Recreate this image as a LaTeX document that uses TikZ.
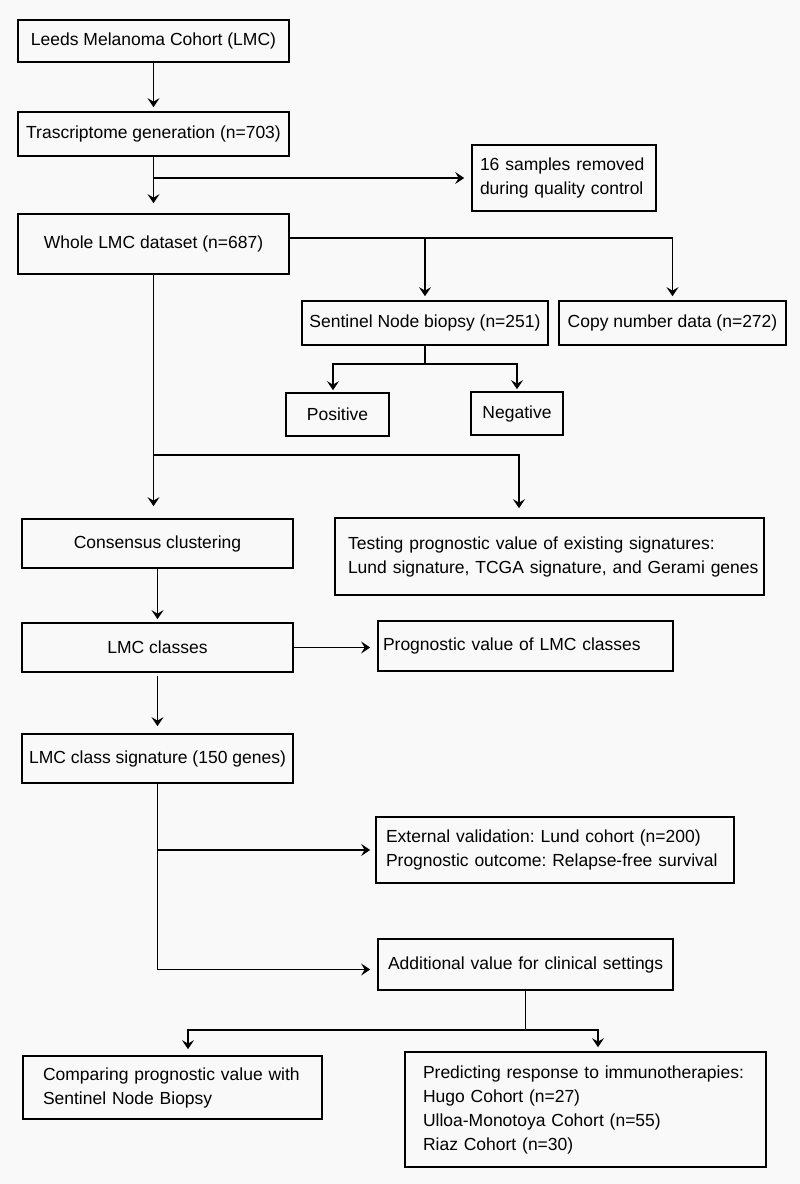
\documentclass[tikz,border=0pt]{standalone}
\usepackage{fontspec}
\setmainfont{Liberation Sans}
\usetikzlibrary{arrows.meta,calc}
\definecolor{bgc}{RGB}{249,249,249}
\frenchspacing
\begin{document}
\begin{tikzpicture}[x=1pt,y=-1pt,
  box/.style={draw=black, line width=1.7pt, rectangle, inner sep=0pt,
    font=\fontsize{17.5}{24}\selectfont\frenchspacing, align=center},
  lbox/.style={box, align=left},
  arr/.style={line width=1.7pt, shorten >=4pt, -{Stealth[length=9pt,width=12pt,inset=3.5pt]}},
  ln/.style={line width=1.7pt}]
\fill[bgc] (0,0) rectangle (800,1184);
\useasboundingbox (0,0) rectangle (800,1184);

% nodes
\node[box, minimum width=271pt, minimum height=42pt] (b1) at (153.5,41) {Leeds Melanoma Cohort (LMC)};
\node[box, minimum width=271pt, minimum height=44pt] (b2) at (153.5,134) {Trascriptome generation (n=703)};
\node[lbox, text width=168pt, inner xsep=8pt, minimum height=66pt] (qc) at (564,178) {\mbox{16 samples removed}\\\mbox{during quality control}};
\node[box, minimum width=271pt, minimum height=60pt] (b3) at (153.5,244) {Whole LMC dataset (n=687)};
\node[box, minimum width=246pt, minimum height=44pt] (sn) at (425,323) {Sentinel Node biopsy (n=251)};
\node[box, minimum width=227pt, minimum height=44pt] (cn) at (672.5,323) {Copy number data (n=272)};
\node[box, minimum width=103pt, minimum height=43pt] (pos) at (337.5,414.5) {Positive};
\node[box, minimum width=92pt, minimum height=43pt] (neg) at (517,413.5) {Negative};
\node[box, minimum width=271pt, minimum height=49pt] (cons) at (157.5,543.5) {Consensus clustering};
\node[lbox, text width=403pt, inner xsep=13pt, minimum height=77pt] (test) at (549.5,556.5) {\mbox{Testing prognostic value of existing signatures:}\\\mbox{Lund signature, TCGA signature, and Gerami genes}};
\node[box, minimum width=271pt, minimum height=49pt] (lmc) at (157.5,647.5) {LMC classes};
\node[lbox, text width=285pt, inner xsep=5pt, minimum height=50pt] (prog) at (525.5,646) {\mbox{Prognostic value of LMC classes}};
\node[box, minimum width=271pt, minimum height=49pt] (sig) at (157.5,758.5) {LMC class signature (150 genes)};
\node[lbox, text width=338pt, inner xsep=10pt, minimum height=66pt] (ext) at (555,850) {\mbox{External validation: Lund cohort (n=200)}\\\mbox{Prognostic outcome: Relapse-free survival}};
\node[lbox, text width=275pt, inner xsep=10pt, minimum height=51pt] (add) at (525.5,964.5) {\mbox{Additional value for clinical settings}};
\node[lbox, text width=259pt, inner xsep=20pt, minimum height=63pt] (comp) at (172.5,1087.5) {\mbox{Comparing prognostic value with}\\\mbox{Sentinel Node Biopsy}};
\node[lbox, text width=325pt, inner xsep=18pt, minimum height=115pt] (pred) at (585.5,1109.5) {\mbox{Predicting response to immunotherapies:}\\\mbox{Hugo Cohort (n=27)}\\\mbox{Ulloa-Monotoya Cohort (n=55)}\\\mbox{Riaz Cohort (n=30)}};

% helper coordinates
\coordinate (y455) at (0,455);
\coordinate (snj) at ($(sn.south)+(0,18)$);
\coordinate (aj) at ($(add.south)+(0,39)$);
\coordinate (b3r) at ([yshift=6pt]b3.east);

% connectors
\draw[arr] (b1.south) -- (b2.north);
\draw[arr, shorten >=10pt] (b2.south) -- (b3.north);
\draw[arr, shorten >=7pt] (b2.south |- qc.west) -- (qc.west);
\draw[arr] (b3r) -| (cn.north);
\draw[arr] (sn.north |- b3r) -- (sn.north);
\draw[ln] (sn.south) -- (snj);
\draw[arr, shorten >=2pt] (snj) -| ([xshift=-4.5pt]pos.north);
\draw[arr, shorten >=2pt] (snj) -| (neg.north);
\draw[arr, shorten >=12pt] (b3.south) -- (b3.south |- cons.north);
\draw[arr, shorten >=9pt] (b3.south |- y455) -| ([xshift=-30.5pt]test.north);
\draw[arr, shorten >=3pt] (cons.south) -- (lmc.north);
\draw[arr, shorten >=7pt] (lmc.east) -- (lmc.east -| prog.west);
\draw[arr, shorten <=3pt, shorten >=7pt] (lmc.south) -- (sig.north);
\draw[arr, shorten >=5pt] (sig.south |- ext.west) -- (ext.west);
\draw[arr, shorten >=7pt] (sig.south) |- ([yshift=-5pt]add.west);
\draw[ln] (add.south) -- (aj);
\draw[arr, shorten >=6pt] (aj) -| ([xshift=15.5pt]comp.north);
\draw[arr] (aj) -| ([xshift=12.5pt]pred.north);
\end{tikzpicture}
\end{document}
